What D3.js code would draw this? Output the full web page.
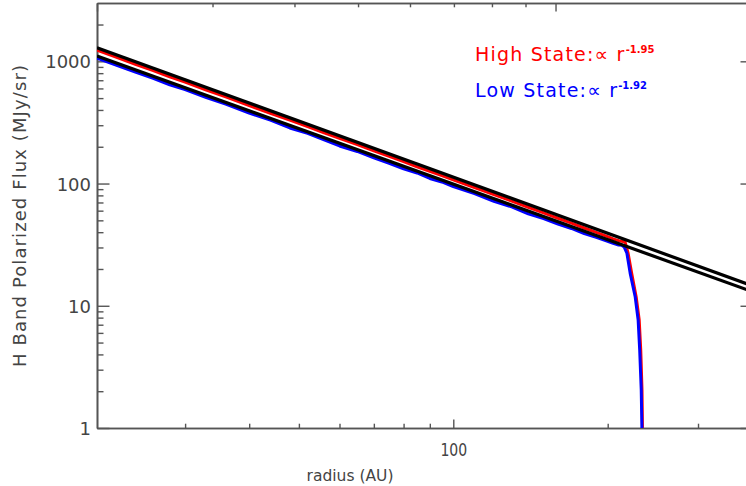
<!DOCTYPE html>
<html>
<head>
<meta charset="utf-8">
<script src="https://cdn.jsdelivr.net/npm/d3@7"></script>
<style>
  body { margin: 0; background: #fff; }
  svg { display: block; font-family: "DejaVu Sans", sans-serif; }
</style>
</head>
<body>
<div id="chart"></div>
<script>
// High state profile (red)
const highRadius = [20.2, 22, 24, 26, 28, 30, 33, 36, 40, 44, 48, 52, 56, 60, 65, 70, 75, 80, 85, 90, 95, 100,
  110, 120, 130, 140, 150, 160, 170, 180, 190, 200, 205, 210, 216.3, 219.2, 222.7, 227.3, 230.4, 232.0, 233.3, 233.8, 234]
const highFlux = [1233, 1081, 946, 841, 746, 675, 582, 512, 434, 376, 330, 292, 260, 234, 208, 185, 167, 151, 137, 126, 116, 107,
  92.7, 81.3, 71.8, 64.0, 57.5, 52.0, 47.4, 43.3, 39.8, 36.8, 35.3, 34.1, 33.2, 26.9, 18.5, 11.8, 7.64, 4.34, 2.05, 1.0, 0.5]

// Low state profile (blue)
const lowRadius = [20.2, 22, 24, 26, 28, 30, 33, 36, 40, 44, 48, 52, 56, 60, 65, 70, 75, 80, 85, 90, 95, 100,
  110, 120, 130, 140, 150, 160, 170, 180, 190, 200, 205, 210, 213.1, 215.4, 218.0, 221.2, 226.3, 229.3, 230.9, 232.5, 233.2, 233.4]
const lowFlux = [1062, 933, 818, 726, 643, 586, 505, 447, 377, 330, 285, 257, 228, 203, 183, 162, 146.5, 132, 122, 110, 103, 94.6,
  82.8, 71.6, 64.4, 56.5, 51.6, 46.6, 42.9, 38.9, 36.3, 33.7, 32.4, 31.4, 31.3, 30.2, 26.9, 18.5, 11.8, 7.64, 4.34, 2.05, 1.0, 0.5]

// power law fits (end points)
const fitRadius = [20.2, 384]
const fitHigh = [1291, 14.5]
const fitLow = [1103, 13.0]

const yMajor = [1, 10, 100, 1000]
const yMinor = [2, 3, 4, 5, 6, 7, 8, 9, 20, 30, 40, 50, 60, 70, 80, 90, 200, 300, 400, 500, 600, 700, 800, 900, 2000]
const xMajor = [100]
const xMinor = [30, 40, 50, 60, 70, 80, 90, 200, 300]
const topMajor = [0.2, 1]
const topMinor = [0.3, 0.4, 0.5, 0.6, 0.7, 0.8, 0.9]

const width = 746, height = 486
const plotLeft = 97, plotRight = 753, plotTop = 3, plotBottom = 428

const svg = d3.select("#chart").append("svg")
  .attr("width", width)
  .attr("height", height)

const x = d3.scaleLog().domain([20.2, 384]).range([plotLeft, plotRight])
const xTop = d3.scaleLog().domain([0.2, 2]).range([plotLeft, plotRight])
const y = d3.scaleLog().domain([1, 3000]).range([plotBottom, plotTop])

svg.append("defs").append("clipPath").attr("id", "plot")
  .append("rect").attr("x", plotLeft).attr("y", plotTop)
  .attr("width", plotRight - plotLeft).attr("height", plotBottom - plotTop)

const axisColor = "#555"

function styleAxis(g) {
  g.selectAll("path.domain").attr("stroke", axisColor).attr("stroke-width", 1.6)
  g.selectAll(".tick line").attr("stroke", axisColor).attr("stroke-width", 1.4)
  g.selectAll("text").attr("fill", "#444").attr("font-family", "DejaVu Sans")
}

// left axis
svg.append("g").attr("transform", `translate(${plotLeft},0)`)
  .call(d3.axisLeft(y).tickValues(yMinor).tickSizeInner(-6.5).tickSizeOuter(0).tickFormat(""))
  .call(styleAxis)
svg.append("g").attr("transform", `translate(${plotLeft},0)`)
  .call(d3.axisLeft(y).tickValues(yMajor).tickSizeInner(-12.5).tickSizeOuter(0).tickPadding(6).tickFormat(d3.format("d")))
  .call(styleAxis)
  .call(g => g.selectAll("text").attr("font-size", 18).attr("dy", "0.36em"))

// right axis
svg.append("g").attr("transform", `translate(${plotRight},0)`)
  .call(d3.axisRight(y).tickValues(yMinor).tickSizeInner(-6.5).tickSizeOuter(0).tickFormat(""))
  .call(styleAxis)
svg.append("g").attr("transform", `translate(${plotRight},0)`)
  .call(d3.axisRight(y).tickValues(yMajor).tickSizeInner(-12.5).tickSizeOuter(0).tickFormat(""))
  .call(styleAxis)

// bottom axis
svg.append("g").attr("transform", `translate(0,${plotBottom})`)
  .call(d3.axisBottom(x).tickValues(xMinor).tickSizeInner(-4.3).tickSizeOuter(0).tickFormat(""))
  .call(styleAxis)
svg.append("g").attr("transform", `translate(0,${plotBottom})`)
  .call(d3.axisBottom(x).tickValues(xMajor).tickSizeInner(-8.5).tickSizeOuter(0).tickPadding(15).tickFormat(d3.format("d")))
  .call(styleAxis)
  .call(g => g.selectAll("text").attr("font-size", 18).attr("transform", "scale(0.78,1)"))

// top axis
svg.append("g").attr("transform", `translate(0,${plotTop})`)
  .call(d3.axisTop(xTop).tickValues(topMinor).tickSizeInner(-4.3).tickSizeOuter(0).tickFormat(""))
  .call(styleAxis)
svg.append("g").attr("transform", `translate(0,${plotTop})`)
  .call(d3.axisTop(xTop).tickValues(topMajor).tickSizeInner(-8.5).tickSizeOuter(0).tickFormat(""))
  .call(styleAxis)

// titles
svg.append("text")
  .attr("x", 350).attr("y", 481)
  .attr("text-anchor", "middle")
  .attr("font-size", 15.5)
  .attr("fill", "#444")
  .text("radius (AU)")

svg.append("text")
  .attr("transform", `translate(26,${(plotTop + plotBottom) / 2}) rotate(-90)`)
  .attr("text-anchor", "middle")
  .attr("font-size", 18)
  .attr("letter-spacing", 1.1)
  .attr("fill", "#444")
  .text("H Band Polarized Flux (MJy/sr)")

// curves
const line = d3.line().x(d => x(d[0])).y(d => y(d[1]))
const plot = svg.append("g").attr("clip-path", "url(#plot)")

plot.append("path")
  .datum(d3.zip(highRadius, highFlux))
  .attr("d", line)
  .attr("fill", "none").attr("stroke", "#ff0000").attr("stroke-width", 3).attr("stroke-linejoin", "round")

plot.append("path")
  .datum(d3.zip(lowRadius, lowFlux))
  .attr("d", line)
  .attr("fill", "none").attr("stroke", "#0000ff").attr("stroke-width", 3).attr("stroke-linejoin", "round")

for (const fit of [fitHigh, fitLow]) {
  plot.append("path")
    .datum(d3.zip(fitRadius, fit))
    .attr("d", line)
    .attr("fill", "none").attr("stroke", "#000").attr("stroke-width", 3.2)
}

// legend
const legend = [
  { label: "High State:\u221d r", exp: "-1.95", color: "#ff0000", y: 61 },
  { label: "Low State:\u221d r", exp: "-1.92", color: "#0000ff", y: 97 }
]
legend.forEach(d => {
  const t = svg.append("text")
    .attr("x", 475).attr("y", d.y)
    .attr("font-size", 19)
    .attr("fill", d.color)
  t.append("tspan").attr("letter-spacing", 1.2).text(d.label)
  t.append("tspan")
    .attr("dy", -8).attr("font-size", 10).attr("font-weight", "bold")
    .text(d.exp)
})
</script>
</body>
</html>
